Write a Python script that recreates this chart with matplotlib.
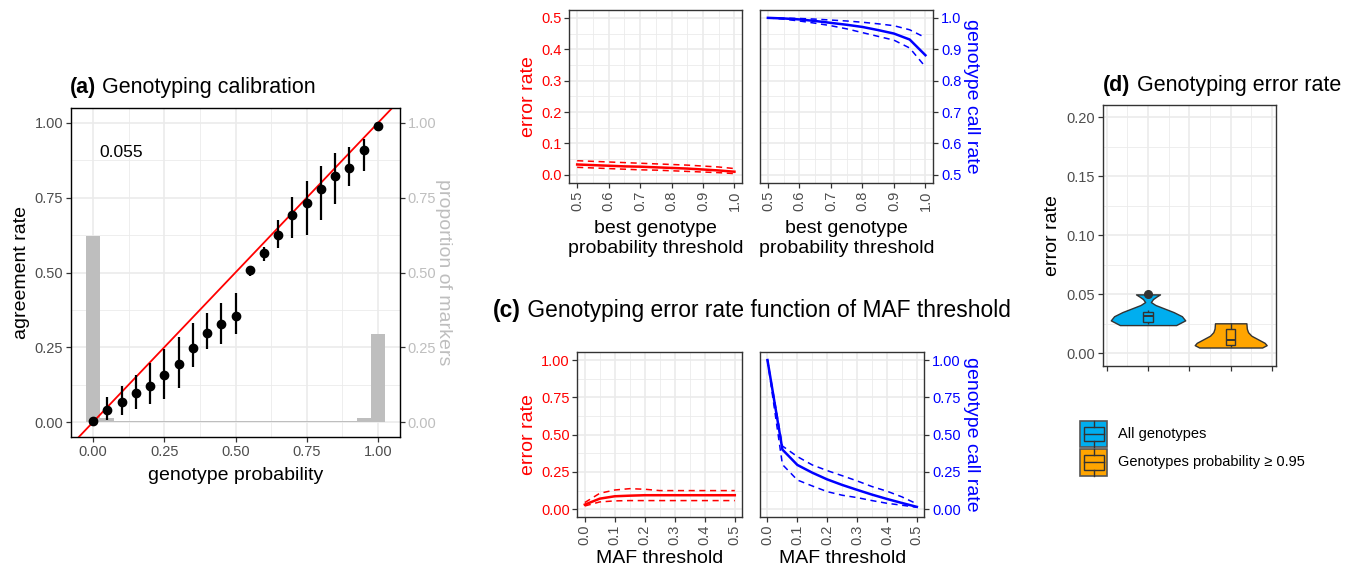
import numpy as np
import matplotlib
matplotlib.use("Agg")
import matplotlib.pyplot as plt
from matplotlib.patches import Rectangle

plt.rcParams['font.family'] = ['Liberation Sans', 'DejaVu Sans']

W, H = 1357, 570

# (a) genotyping calibration
calib_prob = [0.00, 0.05, 0.10, 0.15, 0.20, 0.25, 0.30, 0.35, 0.40, 0.45, 0.50,
              0.55, 0.60, 0.65, 0.70, 0.75, 0.80, 0.85, 0.90, 0.95, 1.00]
calib_agree = [0.002, 0.041, 0.067, 0.096, 0.122, 0.156, 0.194, 0.248, 0.297, 0.328, 0.356,
               0.509, 0.564, 0.627, 0.692, 0.732, 0.779, 0.824, 0.851, 0.908, 0.991]
calib_lo = [0.000, 0.008, 0.024, 0.043, 0.060, 0.078, 0.113, 0.185, 0.243, 0.261, 0.293,
            0.487, 0.537, 0.581, 0.614, 0.626, 0.675, 0.728, 0.788, 0.839, 0.986]
calib_hi = [0.004, 0.085, 0.119, 0.157, 0.198, 0.243, 0.285, 0.331, 0.363, 0.397, 0.430,
            0.520, 0.584, 0.676, 0.751, 0.806, 0.857, 0.900, 0.921, 0.945, 0.996]
marker_prop = [0.623, 0.013, 0.004, 0.004, 0.002, 0.002, 0.002, 0.002, 0.002, 0.002, 0.002,
               0.002, 0.002, 0.002, 0.002, 0.002, 0.002, 0.004, 0.004, 0.014, 0.293]
calib_stat = "0.055"

# (b) best genotype probability threshold
best_thr = [0.50, 0.55, 0.60, 0.65, 0.70, 0.75, 0.80, 0.85, 0.90, 0.95, 1.00]
best_err = [0.033, 0.031, 0.029, 0.027, 0.026, 0.024, 0.022, 0.020, 0.017, 0.014, 0.010]
best_err_hi = [0.045, 0.043, 0.041, 0.039, 0.037, 0.035, 0.033, 0.031, 0.028, 0.025, 0.020]
best_err_lo = [0.024, 0.022, 0.020, 0.018, 0.016, 0.015, 0.013, 0.011, 0.009, 0.007, 0.004]
best_call = [1.000, 0.998, 0.995, 0.990, 0.984, 0.978, 0.971, 0.961, 0.950, 0.931, 0.881]
best_call_hi = [1.000, 0.999, 0.998, 0.996, 0.993, 0.990, 0.986, 0.981, 0.975, 0.962, 0.937]
best_call_lo = [1.000, 0.996, 0.990, 0.983, 0.975, 0.965, 0.953, 0.941, 0.929, 0.904, 0.844]

# (c) MAF threshold
maf_thr = [0.00, 0.05, 0.10, 0.15, 0.20, 0.25, 0.30, 0.35, 0.40, 0.45, 0.50]
maf_err = [0.031, 0.071, 0.087, 0.091, 0.094, 0.094, 0.094, 0.094, 0.094, 0.094, 0.094]
maf_err_hi = [0.045, 0.107, 0.129, 0.138, 0.134, 0.125, 0.125, 0.125, 0.125, 0.125, 0.125]
maf_err_lo = [0.022, 0.049, 0.056, 0.058, 0.058, 0.058, 0.058, 0.058, 0.058, 0.058, 0.058]
maf_call = [1.000, 0.400, 0.297, 0.245, 0.200, 0.163, 0.130, 0.098, 0.069, 0.042, 0.016]
maf_call_hi = [1.000, 0.424, 0.353, 0.297, 0.259, 0.225, 0.190, 0.152, 0.121, 0.083, 0.036]
maf_call_lo = [1.000, 0.300, 0.196, 0.156, 0.118, 0.094, 0.078, 0.058, 0.040, 0.027, 0.013]

# (d) genotyping error rate, violin outlines (error rate, half width) and boxes
groups = ["All genotypes", "Genotypes probability \u2265 0.95"]
group_colors = ["#00AEEF", "#FFA500"]
viol_all_y = [0.024, 0.028, 0.0315, 0.035, 0.038, 0.041, 0.0435, 0.046, 0.048, 0.050]
viol_all_w = [0.34, 0.45, 0.41, 0.31, 0.20, 0.09, 0.035, 0.06, 0.10, 0.145]
viol_hi_y = [0.005, 0.007, 0.009, 0.012, 0.015, 0.018, 0.021, 0.0255]
viol_hi_w = [0.38, 0.435, 0.41, 0.33, 0.25, 0.21, 0.195, 0.19]
# whisker low, q1, median, q3, whisker high
box_all = [0.0245, 0.0265, 0.0315, 0.035, 0.037]
box_hi = [0.0056, 0.0068, 0.011, 0.0208, 0.0256]
outliers_all = [0.050]

GRID = "#EBEBEB"
DARK = "#333333"
TICKLAB = "#4D4D4D"

fig = plt.figure(figsize=(W / 100, H / 100), dpi=100)


def place(l, r, t, b):
    return fig.add_axes([l / W, 1 - b / H, (r - l) / W, (b - t) / H])


def bw(ax, xmaj, xmin, ymaj, ymin):
    ax.set_xticks(xmaj)
    ax.set_xticks(xmin, minor=True)
    ax.set_yticks(ymaj)
    ax.set_yticks(ymin, minor=True)
    ax.grid(True, which='major', color=GRID, lw=1.2)
    ax.grid(True, which='minor', color=GRID, lw=0.6)
    ax.set_axisbelow(True)
    for s in ax.spines.values():
        s.set_color(DARK)
        s.set_linewidth(1.0)
    ax.tick_params(which='major', color=DARK, length=3.5, width=0.9,
                   labelsize=10.5, labelcolor=TICKLAB, pad=2)
    ax.tick_params(which='minor', length=0)


def title(ax, x, y, tag, text, size=15.5):
    t1 = fig.text(x / W, 1 - y / H, tag, weight='bold', size=size,
                  ha='left', va='baseline')
    ax.annotate(" " + text, xy=(1, 0), xycoords=t1, ha='left', va='bottom',
                size=size, annotation_clip=False)


# ---- (a) ----
ax = place(71, 400, 108, 437)
ax.set_xlim(-0.0775, 1.0775)
ax.set_ylim(-0.05, 1.05)
qt = [0, 0.25, 0.5, 0.75, 1.0]
qm = [0.125, 0.375, 0.625, 0.875]
bw(ax, qt, qm, qt, qm)
ax.set_xticklabels(["0.00", "0.25", "0.50", "0.75", "1.00"])
ax.set_yticklabels(["0.00", "0.25", "0.50", "0.75", "1.00"])
ax.bar(calib_prob, marker_prop, width=0.05, color="#BEBEBE", zorder=1)
ax.axline((0, 0), slope=1, color="red", lw=1.3, zorder=2)
ax.vlines(calib_prob, calib_lo, calib_hi, color="black", lw=1.6, zorder=3)
ax.plot(calib_prob, calib_agree, 'o', color="black", ms=6, zorder=4)
ax.text(0.1, 0.9, calib_stat, size=12.5, ha='center', va='center')
ax.set_xlabel("genotype probability", size=14, labelpad=6.3)
ax.set_ylabel("agreement rate", size=14, labelpad=3)
axr = ax.twinx()
axr.set_ylim(ax.get_ylim())
axr.set_yticks(qt)
axr.set_yticklabels(["0.00", "0.25", "0.50", "0.75", "1.00"])
axr.tick_params(color=DARK, length=3.5, width=0.9, labelsize=10.5,
                labelcolor="#BEBEBE", pad=2)
axr.set_ylabel("proportion of markers", size=14, color="#BEBEBE",
               rotation=-90, va='bottom', labelpad=-1)
title(ax, 70, 93, "(a)", "Genotyping calibration")

# ---- (b) ----
bx_maj = [0.5, 0.6, 0.7, 0.8, 0.9, 1.0]
bx_min = [0.55, 0.65, 0.75, 0.85, 0.95]
bx_lab = ["0.5", "0.6", "0.7", "0.8", "0.9", "1.0"]

axb1 = place(569.3, 742.3, 10, 182.7)
axb1.set_xlim(0.475, 1.025)
axb1.set_ylim(-0.025, 0.525)
bw(axb1, bx_maj, bx_min, [0, 0.1, 0.2, 0.3, 0.4, 0.5], [0.05, 0.15, 0.25, 0.35, 0.45])
axb1.set_xticklabels(bx_lab, rotation=90)
axb1.set_yticklabels(["0.0", "0.1", "0.2", "0.3", "0.4", "0.5"])
axb1.tick_params(axis='y', labelcolor="red")
axb1.plot(best_thr, best_err, color="red", lw=1.8)
axb1.plot(best_thr, best_err_hi, color="red", lw=1.1, ls=(0, (4, 3)))
axb1.plot(best_thr, best_err_lo, color="red", lw=1.1, ls=(0, (4, 3)))
axb1.set_ylabel("error rate", size=14, color="red", labelpad=3)
axb1.set_xlabel("best genotype\nprobability threshold", size=14, labelpad=6.4,
                linespacing=1.25)

axb2 = place(760, 933.3, 10, 182.7)
axb2.set_xlim(0.475, 1.025)
axb2.set_ylim(0.475, 1.025)
bw(axb2, bx_maj, bx_min, [0.5, 0.6, 0.7, 0.8, 0.9, 1.0], [0.55, 0.65, 0.75, 0.85, 0.95])
axb2.set_xticklabels(bx_lab, rotation=90)
axb2.yaxis.tick_right()
axb2.yaxis.set_label_position('right')
axb2.set_yticklabels(["0.5", "0.6", "0.7", "0.8", "0.9", "1.0"])
axb2.tick_params(axis='y', labelcolor="blue")
axb2.plot(best_thr, best_call, color="blue", lw=1.8)
axb2.plot(best_thr, best_call_hi, color="blue", lw=1.1, ls=(0, (4, 3)))
axb2.plot(best_thr, best_call_lo, color="blue", lw=1.1, ls=(0, (4, 3)))
axb2.set_ylabel("genotype call rate", size=14, color="blue", rotation=-90,
                va='bottom', labelpad=1.5)
axb2.set_xlabel("best genotype\nprobability threshold", size=14, labelpad=6.4,
                linespacing=1.25)

# ---- (c) ----
cx_maj = [0.0, 0.1, 0.2, 0.3, 0.4, 0.5]
cx_min = [0.05, 0.15, 0.25, 0.35, 0.45]
cx_lab = ["0.0", "0.1", "0.2", "0.3", "0.4", "0.5"]
cy_lab = ["0.00", "0.25", "0.50", "0.75", "1.00"]

axc1 = place(577.3, 742.3, 352, 517.3)
axc1.set_xlim(-0.025, 0.525)
axc1.set_ylim(-0.054, 1.054)
bw(axc1, cx_maj, cx_min, qt, qm)
axc1.set_xticklabels(cx_lab, rotation=90)
axc1.set_yticklabels(cy_lab)
axc1.tick_params(axis='y', labelcolor="red")
axc1.plot(maf_thr, maf_err, color="red", lw=1.8)
axc1.plot(maf_thr, maf_err_hi, color="red", lw=1.1, ls=(0, (4, 3)))
axc1.plot(maf_thr, maf_err_lo, color="red", lw=1.1, ls=(0, (4, 3)))
axc1.set_ylabel("error rate", size=14, color="red", labelpad=3)
axc1.set_xlabel("MAF threshold", size=14, labelpad=3)

axc2 = place(760, 924.3, 352, 517.3)
axc2.set_xlim(-0.025, 0.525)
axc2.set_ylim(-0.054, 1.054)
bw(axc2, cx_maj, cx_min, qt, qm)
axc2.set_xticklabels(cx_lab, rotation=90)
axc2.yaxis.tick_right()
axc2.yaxis.set_label_position('right')
axc2.set_yticklabels(cy_lab)
axc2.tick_params(axis='y', labelcolor="blue")
axc2.plot(maf_thr, maf_call, color="blue", lw=1.8)
axc2.plot(maf_thr, maf_call_hi, color="blue", lw=1.1, ls=(0, (4, 3)))
axc2.plot(maf_thr, maf_call_lo, color="blue", lw=1.1, ls=(0, (4, 3)))
axc2.set_ylabel("genotype call rate", size=14, color="blue", rotation=-90,
                va='bottom', labelpad=1.5)
axc2.set_xlabel("MAF threshold", size=14, labelpad=3)

title(axc1, 493, 317, "(c)", "Genotyping error rate function of MAF threshold",
      size=16.4)

# ---- (d) ----
axd = place(1102.7, 1276, 105, 365.7)
axd.set_xlim(0.452, 2.548)
axd.set_ylim(-0.0104, 0.2104)
bw(axd, [0.5, 1.0, 1.5, 2.0, 2.5], [0.75, 1.25, 1.75, 2.25],
   [0, 0.05, 0.10, 0.15, 0.20], [0.025, 0.075, 0.125, 0.175])
axd.set_xticklabels([])
axd.set_yticklabels(["0.00", "0.05", "0.10", "0.15", "0.20"])
profiles = [(viol_all_y, viol_all_w), (viol_hi_y, viol_hi_w)]
boxes = [box_all, box_hi]
for i, ((vy, vw), bx, col) in enumerate(zip(profiles, boxes, group_colors)):
    xc = i + 1
    vy = np.array(vy)
    vw = np.array(vw)
    axd.fill_betweenx(vy, xc - vw, xc + vw, facecolor=col, edgecolor=DARK,
                      lw=1.0, zorder=2)
    wlo, q1, med, q3, whi = bx
    axd.vlines(xc, wlo, q1, color=DARK, lw=1.0, zorder=3)
    axd.vlines(xc, q3, whi, color=DARK, lw=1.0, zorder=3)
    axd.add_patch(Rectangle((xc - 0.055, q1), 0.11, q3 - q1, facecolor=col,
                            edgecolor=DARK, lw=1.0, zorder=3))
    axd.hlines(med, xc - 0.055, xc + 0.055, color=DARK, lw=1.4, zorder=4)
axd.plot([1] * len(outliers_all), outliers_all, 'o', color=DARK, ms=5.5, zorder=5)
axd.set_ylabel("error rate", size=14, labelpad=4)
title(axd, 1103.3, 91, "(d)", "Genotyping error rate")

# legend drawn by hand in pixel space
axl = place(1075, 1330, 415, 482)
axl.set_xlim(1075, 1330)
axl.set_ylim(482, 415)
axl.axis('off')
for k, (lab, col) in enumerate(zip(groups, group_colors)):
    top = 420.7 + k * 28.3
    bot = top + 26.6
    axl.add_patch(Rectangle((1080, top), 27, bot - top, facecolor=col,
                            edgecolor="#555555", lw=1.2))
    axl.add_patch(Rectangle((1083.5, top + 6), 20, bot - top - 12, facecolor=col,
                            edgecolor=DARK, lw=1.0))
    mid = (top + bot) / 2
    axl.plot([1083.5, 1103.5], [mid, mid], color=DARK, lw=1.0)
    axl.plot([1093.5, 1093.5], [top, top + 6], color=DARK, lw=1.0)
    axl.plot([1093.5, 1093.5], [bot - 6, bot], color=DARK, lw=1.0)
    axl.text(1117.5, mid, lab, size=10.5, va='center', ha='left')

fig.savefig("out.png", dpi=100)
